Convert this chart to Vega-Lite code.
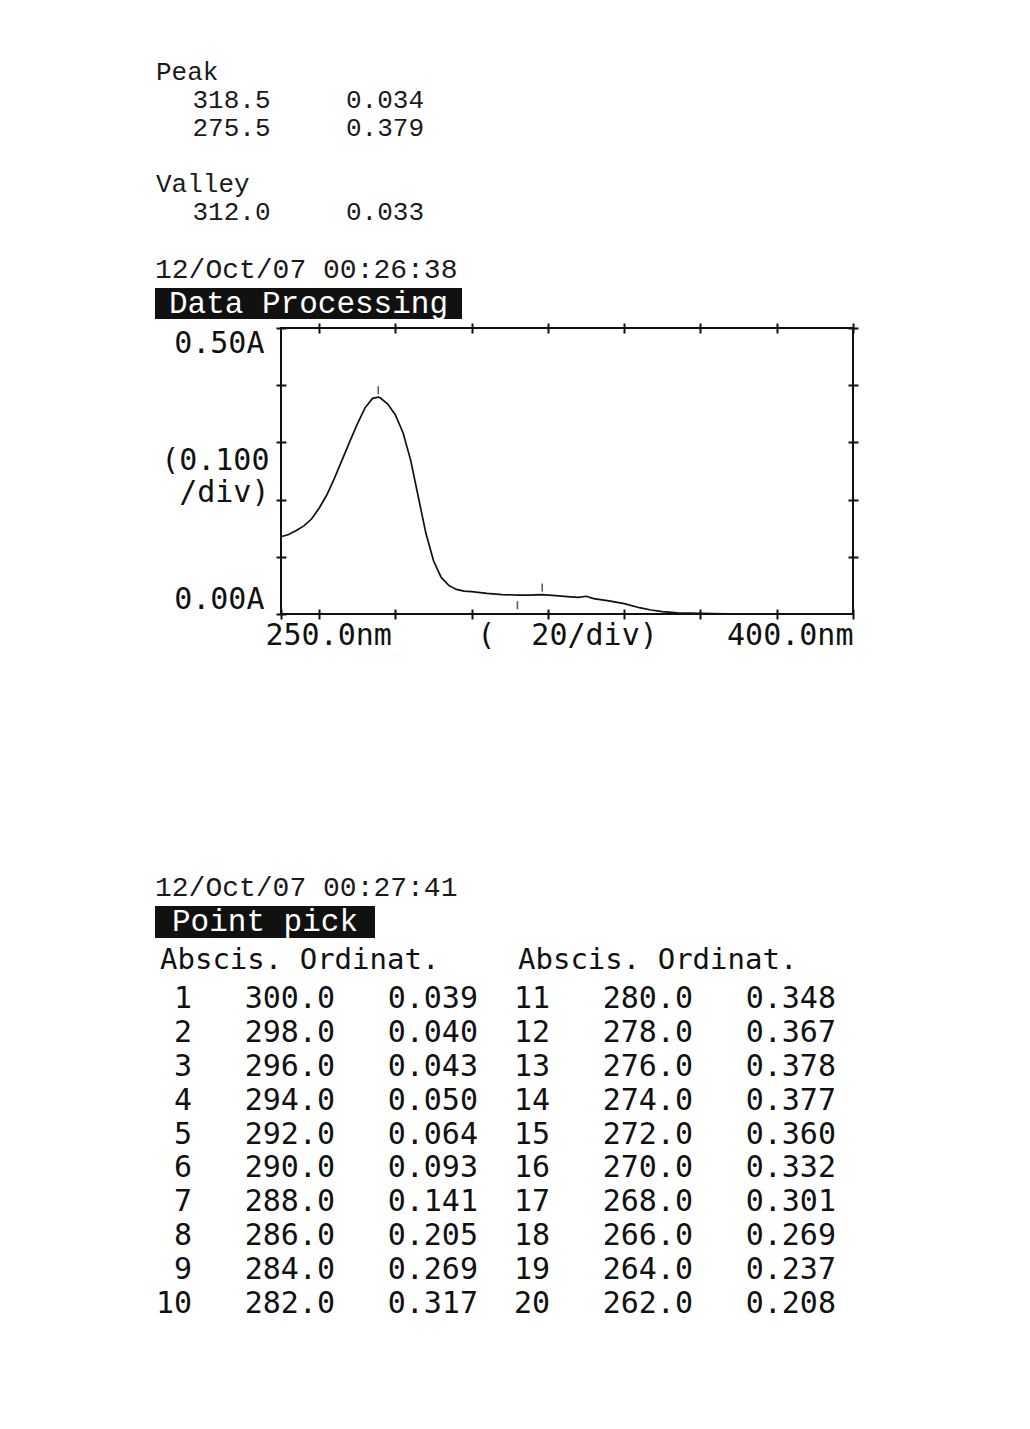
{
  "$schema": "https://vega.github.io/schema/vega-lite/v6.json",
  "background": "white",
  "padding": {"left": 155, "top": 55, "right": 10, "bottom": 10},
  "bounds": "flush",
  "spacing": 0,
  "config": {
    "view": {"stroke": null},
    "axis": {"tickColor": "#111", "labelColor": "#111", "titleColor": "#111", "grid": false, "domain": false}
  },
  "datasets": {
    "spectrum": [
      {"nm": 250, "abs": 0.135}, {"nm": 252, "abs": 0.139}, {"nm": 254, "abs": 0.146}, {"nm": 256, "abs": 0.154},
      {"nm": 258, "abs": 0.166}, {"nm": 260, "abs": 0.185}, {"nm": 262, "abs": 0.208}, {"nm": 264, "abs": 0.237},
      {"nm": 266, "abs": 0.269}, {"nm": 268, "abs": 0.301}, {"nm": 270, "abs": 0.332}, {"nm": 272, "abs": 0.360},
      {"nm": 274, "abs": 0.377}, {"nm": 275.5, "abs": 0.379}, {"nm": 276, "abs": 0.378}, {"nm": 278, "abs": 0.367},
      {"nm": 280, "abs": 0.348}, {"nm": 282, "abs": 0.317}, {"nm": 284, "abs": 0.269}, {"nm": 286, "abs": 0.205},
      {"nm": 288, "abs": 0.141}, {"nm": 290, "abs": 0.093}, {"nm": 292, "abs": 0.064}, {"nm": 294, "abs": 0.050},
      {"nm": 296, "abs": 0.043}, {"nm": 298, "abs": 0.040}, {"nm": 300, "abs": 0.039}, {"nm": 304, "abs": 0.036},
      {"nm": 308, "abs": 0.034}, {"nm": 312, "abs": 0.033}, {"nm": 315, "abs": 0.033}, {"nm": 318.5, "abs": 0.034},
      {"nm": 322, "abs": 0.032}, {"nm": 326, "abs": 0.030}, {"nm": 328, "abs": 0.029}, {"nm": 330, "abs": 0.031},
      {"nm": 332, "abs": 0.027}, {"nm": 336, "abs": 0.023}, {"nm": 340, "abs": 0.018}, {"nm": 344, "abs": 0.011},
      {"nm": 347, "abs": 0.007}, {"nm": 350, "abs": 0.004}, {"nm": 354, "abs": 0.002}, {"nm": 360, "abs": 0.001},
      {"nm": 370, "abs": 0.0}, {"nm": 400, "abs": 0.0}
    ],
    "extrema": [
      {"kind": "Peak", "line": 1, "wavelength": 318.5, "absorbance": 0.034},
      {"kind": "Peak", "line": 2, "wavelength": 275.5, "absorbance": 0.379},
      {"kind": "Valley", "line": 5, "wavelength": 312.0, "absorbance": 0.033}
    ],
    "headings": [
      {"label": "Peak", "line": 0},
      {"label": "Valley", "line": 4}
    ],
    "points": [
      {"no": 1, "block": 1, "line": 1, "abscis": 300.0, "ordinat": 0.039},
      {"no": 2, "block": 1, "line": 2, "abscis": 298.0, "ordinat": 0.040},
      {"no": 3, "block": 1, "line": 3, "abscis": 296.0, "ordinat": 0.043},
      {"no": 4, "block": 1, "line": 4, "abscis": 294.0, "ordinat": 0.050},
      {"no": 5, "block": 1, "line": 5, "abscis": 292.0, "ordinat": 0.064},
      {"no": 6, "block": 1, "line": 6, "abscis": 290.0, "ordinat": 0.093},
      {"no": 7, "block": 1, "line": 7, "abscis": 288.0, "ordinat": 0.141},
      {"no": 8, "block": 1, "line": 8, "abscis": 286.0, "ordinat": 0.205},
      {"no": 9, "block": 1, "line": 9, "abscis": 284.0, "ordinat": 0.269},
      {"no": 10, "block": 1, "line": 10, "abscis": 282.0, "ordinat": 0.317},
      {"no": 11, "block": 2, "line": 1, "abscis": 280.0, "ordinat": 0.348},
      {"no": 12, "block": 2, "line": 2, "abscis": 278.0, "ordinat": 0.367},
      {"no": 13, "block": 2, "line": 3, "abscis": 276.0, "ordinat": 0.378},
      {"no": 14, "block": 2, "line": 4, "abscis": 274.0, "ordinat": 0.377},
      {"no": 15, "block": 2, "line": 5, "abscis": 272.0, "ordinat": 0.360},
      {"no": 16, "block": 2, "line": 6, "abscis": 270.0, "ordinat": 0.332},
      {"no": 17, "block": 2, "line": 7, "abscis": 268.0, "ordinat": 0.301},
      {"no": 18, "block": 2, "line": 8, "abscis": 266.0, "ordinat": 0.269},
      {"no": 19, "block": 2, "line": 9, "abscis": 264.0, "ordinat": 0.237},
      {"no": 20, "block": 2, "line": 10, "abscis": 262.0, "ordinat": 0.208}
    ]
  },
  "vconcat": [
    {
      "width": 700,
      "height": 233,
      "encoding": {
        "y": {"field": "line", "type": "quantitative", "scale": {"domain": [0, 5], "range": [25, 165]}, "axis": null}
      },
      "layer": [
        {
          "data": {"name": "headings"},
          "mark": {"type": "text", "align": "left", "baseline": "alphabetic", "font": "Liberation Mono", "fontSize": 26, "color": "#1a1a1a"},
          "encoding": {
            "x": {"datum": "label", "type": "nominal", "scale": {"type": "point", "domain": ["label", "wavelength", "absorbance"], "range": [1, 230], "padding": 0}, "axis": null},
            "text": {"field": "label"}
          }
        },
        {
          "data": {"name": "extrema"},
          "mark": {"type": "text", "align": "right", "baseline": "alphabetic", "font": "Liberation Mono", "fontSize": 26, "color": "#1a1a1a"},
          "encoding": {
            "x": {"datum": "wavelength", "type": "nominal"},
            "text": {"field": "wavelength", "type": "quantitative", "format": ".1f"}
          }
        },
        {
          "data": {"name": "extrema"},
          "mark": {"type": "text", "align": "center", "baseline": "alphabetic", "font": "Liberation Mono", "fontSize": 26, "color": "#1a1a1a"},
          "encoding": {
            "x": {"datum": "absorbance", "type": "nominal"},
            "text": {"field": "absorbance", "type": "quantitative", "format": ".3f"}
          }
        }
      ]
    },
    {
      "width": 307,
      "height": 31,
      "view": {"fill": "#111", "stroke": null},
      "title": {"text": "12/Oct/07 00:26:38", "anchor": "start", "frame": "group", "offset": -18, "baseline": "alphabetic", "font": "Liberation Mono", "fontSize": 28, "fontWeight": "normal", "color": "#1a1a1a"},
      "data": {"values": [{"label": "Data Processing"}]},
      "mark": {"type": "text", "font": "Liberation Mono", "fontSize": 31, "color": "white", "align": "center", "baseline": "middle"},
      "encoding": {"text": {"field": "label"}}
    },
    {
      "width": 698,
      "height": 587,
      "resolve": {"scale": {"x": "independent", "y": "independent"}, "axis": {"x": "independent", "y": "independent"}},
      "layer": [
        {
          "layer": [
            {
              "data": {"name": "spectrum"},
              "mark": {"type": "line", "color": "#111", "strokeWidth": 1.7},
              "encoding": {
                "x": {
                  "field": "nm", "type": "quantitative",
                  "scale": {"domain": [250, 400], "range": [126, 698], "nice": false, "zero": false},
                  "axis": {
                    "orient": "bottom", "offset": -297, "values": [250, 260, 280, 300, 320, 340, 360, 380, 400],
                    "tickSize": 10, "tickWidth": 2,
                    "labelExpr": "datum.value == 250 ? '250.0nm' : datum.value == 400 ? '400.0nm' : ''",
                    "labelFont": "DejaVu Sans Mono", "labelFontSize": 30, "labelPadding": 1, "labelOverlap": false,
                    "labelAlign": {"condition": {"test": "datum.value == 250", "value": "left"}, "value": "right"},
                    "labelOffset": {"condition": {"test": "datum.value == 250", "value": -16}, "value": 0},
                    "title": "(\u00a0\u00a020/div)", "titleFont": "DejaVu Sans Mono", "titleFontSize": 30, "titleFontWeight": "normal", "titlePadding": -30
                  }
                },
                "y": {
                  "field": "abs", "type": "quantitative",
                  "scale": {"domain": [0, 0.5], "range": [295, 9], "nice": false, "zero": false},
                  "axis": {
                    "orient": "left", "offset": -131, "values": [0, 0.1, 0.2, 0.3, 0.4, 0.5],
                    "tickSize": 10, "tickWidth": 2,
                    "labelExpr": "datum.value == 0.5 ? '0.50A' : datum.value == 0 ? '0.00A' : ''",
                    "labelFont": "DejaVu Sans Mono", "labelFontSize": 30, "labelPadding": 12, "labelFlush": true, "labelOverlap": false,
                    "title": ["(0.100", "/div)"], "titleFont": "DejaVu Sans Mono", "titleFontSize": 30, "titleFontWeight": "normal",
                    "titleAngle": 0, "titleAlign": "right", "titleBaseline": "middle", "titleX": -17, "titleY": 141, "titleLineHeight": 32
                  }
                }
              }
            },
            {
              "data": {"name": "extrema"},
              "transform": [{"filter": "datum.kind == 'Peak'"}],
              "mark": {"type": "tick", "orient": "vertical", "size": 8, "thickness": 1.5, "yOffset": -7, "color": "#111"},
              "encoding": {
                "x": {"field": "wavelength", "type": "quantitative"},
                "y": {"field": "absorbance", "type": "quantitative"}
              }
            },
            {
              "data": {"name": "extrema"},
              "transform": [{"filter": "datum.kind == 'Valley'"}],
              "mark": {"type": "tick", "orient": "vertical", "size": 8, "thickness": 1.5, "yOffset": 10, "color": "#111"},
              "encoding": {
                "x": {"field": "wavelength", "type": "quantitative"},
                "y": {"field": "absorbance", "type": "quantitative"}
              }
            }
          ]
        },
        {
          "data": {"values": [{}]},
          "mark": {"type": "rect", "filled": false, "color": "#111", "strokeWidth": 2},
          "encoding": {
            "x": {
              "datum": 250, "type": "quantitative",
              "scale": {"domain": [250, 400], "range": [126, 698], "nice": false, "zero": false},
              "axis": {"orient": "top", "offset": -14, "values": [260, 280, 300, 320, 340, 360, 380, 400], "tickSize": 10, "tickWidth": 2, "labels": false, "title": null}
            },
            "x2": {"datum": 400},
            "y": {
              "datum": 0, "type": "quantitative",
              "scale": {"domain": [0, 0.5], "range": [295, 9], "nice": false, "zero": false},
              "axis": {"orient": "right", "offset": -5, "values": [0.1, 0.2, 0.3, 0.4, 0.5], "tickSize": 10, "tickWidth": 2, "labels": false, "title": null}
            },
            "y2": {"datum": 0.5}
          }
        }
      ]
    },
    {
      "width": 220,
      "height": 32,
      "view": {"fill": "#111", "stroke": null},
      "title": {"text": "12/Oct/07 00:27:41", "anchor": "start", "frame": "group", "offset": -18, "baseline": "alphabetic", "font": "Liberation Mono", "fontSize": 28, "fontWeight": "normal", "color": "#1a1a1a"},
      "data": {"values": [{"label": "Point pick"}]},
      "mark": {"type": "text", "font": "Liberation Mono", "fontSize": 31, "color": "white", "align": "center", "baseline": "middle"},
      "encoding": {"text": {"field": "label"}}
    },
    {
      "width": 716,
      "height": 44,
      "data": {"values": [{"block": 1, "heading": "Abscis. Ordinat."}, {"block": 2, "heading": "Abscis. Ordinat."}]},
      "mark": {"type": "text", "align": "left", "baseline": "middle", "font": "DejaVu Sans Mono", "fontSize": 29, "color": "#111"},
      "encoding": {
        "x": {"field": "block", "type": "ordinal", "bandPosition": 0, "scale": {"type": "band", "range": [5, 721], "paddingInner": 0, "paddingOuter": 0}, "axis": null},
        "text": {"field": "heading"}
      }
    },
    {
      "width": 716,
      "height": 339,
      "data": {"name": "points"},
      "encoding": {
        "x": {"field": "block", "type": "ordinal", "bandPosition": 0, "scale": {"type": "band", "range": [5, 721], "paddingInner": 0, "paddingOuter": 0}, "axis": null},
        "y": {"field": "line", "type": "ordinal", "scale": {"type": "point", "padding": 0.5}, "axis": null}
      },
      "layer": [
        {
          "mark": {"type": "text", "align": "right", "baseline": "middle", "font": "DejaVu Sans Mono", "fontSize": 30, "color": "#111"},
          "encoding": {
            "xOffset": {"datum": "no", "type": "nominal", "scale": {"type": "point", "domain": ["no", "abscis", "ordinat"], "range": [32, 318], "padding": 0}},
            "text": {"field": "no", "type": "quantitative", "format": "d"}
          }
        },
        {
          "mark": {"type": "text", "align": "right", "baseline": "middle", "font": "DejaVu Sans Mono", "fontSize": 30, "color": "#111"},
          "encoding": {
            "xOffset": {"datum": "abscis", "type": "nominal"},
            "text": {"field": "abscis", "type": "quantitative", "format": ".1f"}
          }
        },
        {
          "mark": {"type": "text", "align": "right", "baseline": "middle", "font": "DejaVu Sans Mono", "fontSize": 30, "color": "#111"},
          "encoding": {
            "xOffset": {"datum": "ordinat", "type": "nominal"},
            "text": {"field": "ordinat", "type": "quantitative", "format": ".3f"}
          }
        }
      ]
    }
  ]
}
